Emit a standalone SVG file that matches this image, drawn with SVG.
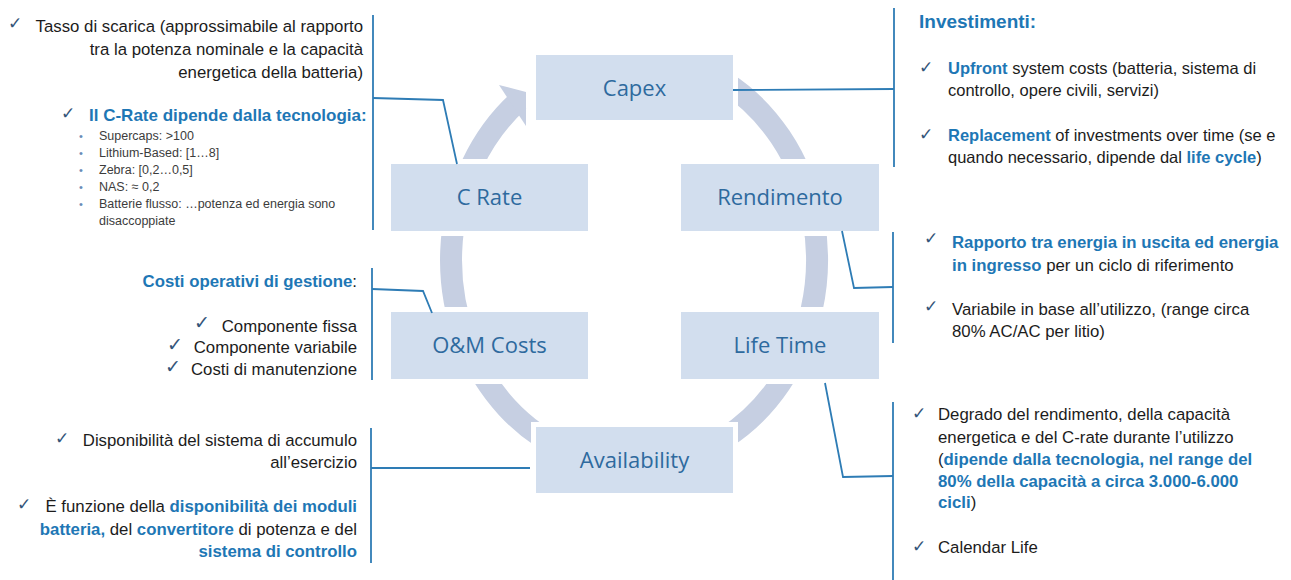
<svg xmlns="http://www.w3.org/2000/svg" width="1291" height="580" viewBox="0 0 1291 580">
<style>
.bg{fill:#fff}
.ring{fill:none;stroke:#C6CFE2;stroke-width:22}
.head{fill:#C6CFE2}
.halo{fill:#fff}
.box{fill:#D2DEEE}
.lbl{font-family:"Open Sans","Noto Sans",sans-serif;font-size:22px;fill:#2E6A9E;text-anchor:middle}
.t{font-family:"Liberation Sans",Arial,sans-serif;font-size:16.8px;fill:#1c1c1c}
.e{text-anchor:end}
.b{font-weight:bold;fill:#1E77B5}
.sm{font-size:12.5px;fill:#3c3c3c}
.bul{font-family:"Liberation Sans",Arial,sans-serif;font-size:11px;fill:#6A8CB8}
.ck{font-family:"DejaVu Sans",sans-serif;font-size:17px;fill:#34557A}
.ck2{font-size:19px}
.con{fill:none;stroke:#2E7CB5;stroke-width:1.8}
</style>
<rect class="bg" x="0" y="0" width="1291" height="580"/>

<g id="cycle">
<path class="ring" d="M 725.5 82.5 A 183 205 0 1 1 518.9 100.7"/>
<polygon class="head" points="499,85 526,92 526,126"/>
</g>

<g id="capex"><rect class="halo" x="531" y="50" width="207" height="75"/><rect class="box" x="536" y="55" width="197" height="65"/><text class="lbl" x="634.5" y="95.5">Capex</text></g>
<g id="crate"><rect class="halo" x="386" y="159" width="207" height="77"/><rect class="box" x="391" y="164" width="197" height="67"/><text class="lbl" x="489.5" y="205">C Rate</text></g>
<g id="rendimento"><rect class="halo" x="676" y="159" width="208" height="77"/><rect class="box" x="681" y="164" width="198" height="67"/><text class="lbl" x="780" y="205">Rendimento</text></g>
<g id="om"><rect class="halo" x="386" y="307" width="207" height="77"/><rect class="box" x="391" y="312" width="197" height="67"/><text class="lbl" x="489.5" y="353">O&amp;M Costs</text></g>
<g id="lifetime"><rect class="halo" x="676" y="307" width="208" height="77"/><rect class="box" x="681" y="312" width="198" height="67"/><text class="lbl" x="780" y="353">Life Time</text></g>
<g id="availability"><rect class="halo" x="531" y="422" width="207" height="76"/><rect class="box" x="536" y="427" width="197" height="66"/><text class="lbl" x="634.5" y="468">Availability</text></g>

<g id="connectors">
<polyline class="con" points="457,164 443,100 373,98"/>
<line class="con" x1="373" y1="15" x2="373" y2="230"/>
<polyline class="con" points="733,90 894,89"/>
<line class="con" x1="894" y1="8" x2="894" y2="167"/>
<polyline class="con" points="432,313 423,291 372,289"/>
<line class="con" x1="372" y1="268" x2="372" y2="380"/>
<polyline class="con" points="842,231 854,288 893,287"/>
<line class="con" x1="893" y1="232" x2="893" y2="343"/>
<polyline class="con" points="530,468 371,468"/>
<line class="con" x1="371" y1="428" x2="371" y2="563"/>
<polyline class="con" points="825,383 843,477 893,476"/>
<line class="con" x1="893" y1="402" x2="893" y2="580"/>
</g>

<g id="note-crate">
<text class="ck" x="8" y="29">✓</text>
<text class="t e" x="363" y="32">Tasso di scarica (approssimabile al rapporto</text>
<text class="t e" x="363" y="55">tra la potenza nominale e la capacità</text>
<text class="t e" x="363" y="78">energetica della batteria)</text>
<text class="ck" x="61" y="119">✓</text>
<text class="t b" x="89" y="121" style="font-size:17px">Il C-Rate dipende dalla tecnologia:</text>
<text class="bul" x="79" y="140">•</text>
<text class="bul" x="79" y="157">•</text>
<text class="bul" x="79" y="174">•</text>
<text class="bul" x="79" y="191">•</text>
<text class="bul" x="79" y="208">•</text>
<text class="t sm" x="99" y="140">Supercaps: &gt;100</text>
<text class="t sm" x="99" y="157">Lithium-Based: [1…8]</text>
<text class="t sm" x="99" y="174">Zebra: [0,2…0,5]</text>
<text class="t sm" x="99" y="191">NAS: ≈ 0,2</text>
<text class="t sm" x="99" y="208">Batterie flusso: …potenza ed energia sono</text>
<text class="t sm" x="99" y="225">disaccoppiate</text>
</g>

<g id="note-om">
<text class="t e" x="357" y="287"><tspan class="b">Costi operativi di gestione</tspan>:</text>
<text class="ck ck2" x="194" y="329">✓</text>
<text class="t e" x="357" y="332">Componente fissa</text>
<text class="ck ck2" x="167" y="351">✓</text>
<text class="t e" x="357" y="353">Componente variabile</text>
<text class="ck ck2" x="165" y="373">✓</text>
<text class="t e" x="357" y="375">Costi di manutenzione</text>
</g>

<g id="note-availability">
<text class="ck" x="55" y="444">✓</text>
<text class="t e" x="357" y="446">Disponibilità del sistema di accumulo</text>
<text class="t e" x="357" y="468">all’esercizio</text>
<text class="ck" x="17" y="510">✓</text>
<text class="t e" x="357" y="512">È funzione della <tspan class="b">disponibilità dei moduli</tspan></text>
<text class="t e" x="357" y="535"><tspan class="b">batteria,</tspan> del <tspan class="b">convertitore</tspan> di potenza e del</text>
<text class="t e b" x="357" y="557">sistema di controllo</text>
</g>

<g id="note-capex">
<text class="t b" x="919" y="28" style="font-size:19px">Investimenti:</text>
<text class="ck" x="919" y="73">✓</text>
<text class="t" x="948" y="74" style="font-size:16.5px"><tspan class="b">Upfront</tspan> system costs (batteria, sistema di</text>
<text class="t" x="948" y="96" style="font-size:16.5px">controllo, opere civili, servizi)</text>
<text class="ck" x="919" y="140">✓</text>
<text class="t" x="948" y="141" style="font-size:16.5px"><tspan class="b">Replacement</tspan> of investments over time (se e</text>
<text class="t" x="948" y="163" style="font-size:16.5px">quando necessario, dipende dal <tspan class="b">life cycle</tspan>)</text>
</g>

<g id="note-rendimento">
<text class="ck" x="924" y="244">✓</text>
<text class="t b" x="952" y="248">Rapporto tra energia in uscita ed energia</text>
<text class="t" x="952" y="271"><tspan class="b">in ingresso</tspan> per un ciclo di riferimento</text>
<text class="ck" x="924" y="312">✓</text>
<text class="t" x="952" y="315">Variabile in base all’utilizzo, (range circa</text>
<text class="t" x="952" y="337">80% AC/AC per litio)</text>
</g>

<g id="note-lifetime">
<text class="ck" x="912" y="419">✓</text>
<text class="t" x="938" y="420">Degrado del rendimento, della capacità</text>
<text class="t" x="938" y="443">energetica e del C-rate durante l’utilizzo</text>
<text class="t" x="938" y="465">(<tspan class="b">dipende dalla tecnologia, nel range del</tspan></text>
<text class="t b" x="938" y="487">80% della capacità a circa 3.000-6.000</text>
<text class="t" x="938" y="508"><tspan class="b">cicli</tspan>)</text>
<text class="ck" x="912" y="552">✓</text>
<text class="t" x="938" y="553">Calendar Life</text>
</g>
</svg>
